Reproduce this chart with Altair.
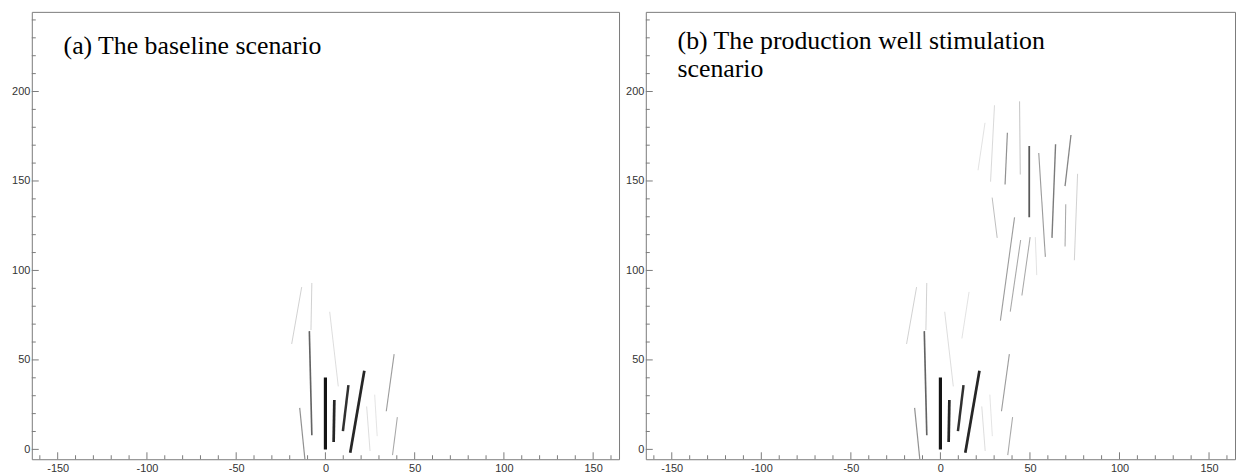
import altair as alt
import pandas as pd

# ---------------- data ----------------
# Fracture segments, baseline scenario (x1, y1) -> (x2, y2), shade: 0 = faint, 1 = dark
base_x1 = [-18.9, -7.6, -9.0, 0.0, 5.0, 12.9, 21.8, 38.5, 40.3, -14.4, 23.1, 27.6, 2.4]
base_y1 = [58.9, 93.0, 66.1, 40.2, 27.6, 35.9, 44.0, 53.2, 18.0, 23.2, 24.0, 30.6, 76.9]
base_x2 = [-13.3, -8.1, -7.6, 0.0, 4.6, 9.8, 13.9, 34.1, 37.6, -11.5, 25.0, 29.0, 7.2]
base_y2 = [90.7, 66.7, 7.9, 0.0, 4.1, 10.2, -1.9, 21.3, -3.2, -5.5, -0.9, 7.4, 35.2]
base_shade = [0.15, 0.15, 0.6, 1.0, 0.9, 0.85, 0.9, 0.35, 0.3, 0.4, 0.1, 0.07, 0.1]

# Extra segments created by production well stimulation
stim_x1 = [24.9, 30.2, 44.2, 37.4, 49.6, 54.9, 64.3, 72.9, 76.6, 70.0, 28.9, 41.4, 44.8, 50.1, 53.0, 16.0]
stim_y1 = [182.5, 192.3, 194.5, 177.0, 169.6, 165.6, 170.5, 175.7, 154.0, 137.0, 140.7, 129.7, 117.0, 118.6, 118.6, 88.0]
stim_x2 = [21.0, 28.0, 44.6, 36.1, 49.6, 58.6, 62.3, 69.6, 74.8, 69.6, 31.7, 33.5, 39.0, 45.5, 53.8, 12.0]
stim_y2 = [156.0, 149.6, 153.6, 148.0, 129.7, 107.6, 118.2, 147.1, 105.7, 113.4, 118.2, 72.0, 77.0, 86.0, 97.4, 62.0]
stim_shade = [0.08, 0.12, 0.2, 0.4, 0.65, 0.35, 0.5, 0.45, 0.15, 0.3, 0.22, 0.35, 0.3, 0.3, 0.08, 0.08]

x_major = [-150, -100, -50, 0, 50, 100, 150]
x_minor = [-160, -140, -130, -120, -110, -90, -80, -70, -60, -40, -30, -20, -10,
           10, 20, 30, 40, 60, 70, 80, 90, 110, 120, 130, 140, 160]
y_major = [0, 50, 100, 150, 200]
y_minor = [10, 20, 30, 40, 60, 70, 80, 90, 110, 120, 130, 140, 160, 170, 180, 190, 210, 220, 230, 240]

title_a = "(a) The baseline scenario"
title_b = "(b) The production well stimulation\nscenario"

X_DOMAIN = [-164.5, 164.5]
Y_DOMAIN = [-5.5, 244.5]

FRAME = "#7a7a7a"


def seg_frame(x1, y1, x2, y2, shade):
    df = pd.DataFrame({"x1": x1, "y1": y1, "x2": x2, "y2": y2, "shade": shade})
    return df.sort_values("shade").reset_index(drop=True)


def panel(df, title, width, height, title_y):
    xs = alt.Scale(domain=X_DOMAIN, nice=False, zero=False)
    ys = alt.Scale(domain=Y_DOMAIN, nice=False, zero=False)
    x_axis = alt.Axis(values=x_major, title=None, ticks=False, domain=False, grid=False,
                      labelPadding=3, labelExpr="replace(datum.label, '\u2212', '-')")
    y_axis = alt.Axis(values=y_major, title=None, ticks=False, domain=False, grid=False,
                      labelPadding=2, minExtent=23, maxExtent=23,
                      labelExpr="replace(datum.label, '\u2212', '-')")

    segs = alt.Chart(df).mark_rule(clip=True, strokeCap="butt").encode(
        x=alt.X("x1:Q", scale=xs, axis=x_axis),
        y=alt.Y("y1:Q", scale=ys, axis=y_axis),
        x2="x2:Q",
        y2="y2:Q",
        color=alt.Color("shade:Q", scale=alt.Scale(domain=[0, 1], range=["#f3f3f3", "#141414"]),
                        legend=None),
        strokeWidth=alt.StrokeWidth("shade:Q",
                                    scale=alt.Scale(type="pow", exponent=2.2, domain=[0, 1],
                                                    range=[0.9, 3.2]),
                                    legend=None),
    )

    xmaj = alt.Chart(pd.DataFrame({"v": x_major})).mark_rule(color=FRAME).encode(
        x=alt.X("v:Q", scale=xs, title=None), y=alt.value(height), y2=alt.value(height - 7))
    xmin = alt.Chart(pd.DataFrame({"v": x_minor})).mark_rule(color=FRAME).encode(
        x=alt.X("v:Q", scale=xs, title=None), y=alt.value(height), y2=alt.value(height - 4))
    ymaj = alt.Chart(pd.DataFrame({"v": y_major})).mark_rule(color=FRAME).encode(
        y=alt.Y("v:Q", scale=ys, title=None), x=alt.value(0), x2=alt.value(7))
    ymin = alt.Chart(pd.DataFrame({"v": y_minor})).mark_rule(color=FRAME).encode(
        y=alt.Y("v:Q", scale=ys, title=None), x=alt.value(0), x2=alt.value(4))

    ttl = alt.Chart(pd.DataFrame({"t": [title]})).mark_text(
        align="left", baseline="alphabetic", font="Liberation Serif", fontSize=26,
        lineHeight=29, lineBreak="\n", color="black"
    ).encode(x=alt.value(32), y=alt.value(title_y), text="t:N")

    return alt.layer(segs, xmin, xmaj, ymin, ymaj, ttl).properties(width=width, height=height)


df_a = seg_frame(base_x1, base_y1, base_x2, base_y2, base_shade)
df_b = seg_frame(base_x1 + stim_x1, base_y1 + stim_y1, base_x2 + stim_x2, base_y2 + stim_y2,
                 base_shade + stim_shade)

chart = alt.hconcat(
    panel(df_a, title_a, 592, 451, 42),
    panel(df_b, title_b, 594, 451, 37),
    spacing=2,
).properties(
    padding={"left": 0, "top": 1, "right": 0, "bottom": 0}
).configure_view(
    stroke=FRAME, strokeWidth=1
).configure_axis(
    labelFont="Liberation Sans", labelFontSize=11, labelColor="#333333"
)

chart.save("out.html", embed_options={"renderer": "svg", "actions": False})
